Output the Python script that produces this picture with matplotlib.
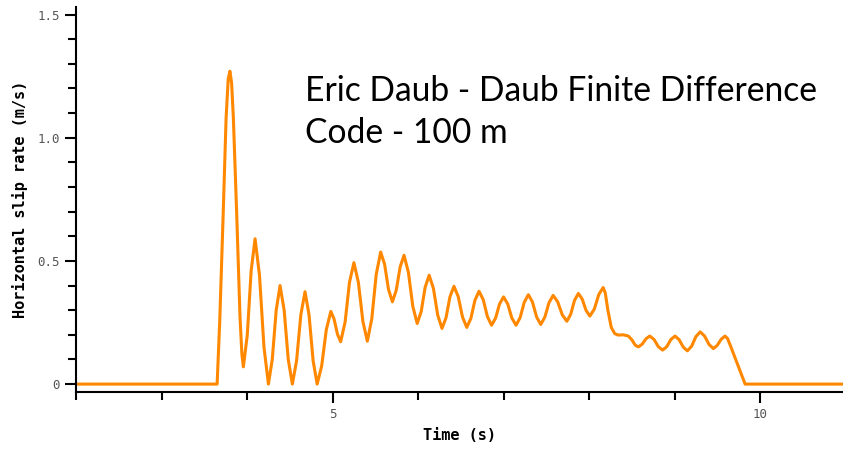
import matplotlib
matplotlib.use("Agg")
import matplotlib.pyplot as plt
from matplotlib.ticker import MultipleLocator

# slip rate history (time in s, rate in m/s)
time_s = [
    2.0, 3.65, 3.68, 3.72, 3.755, 3.78, 3.80,
    3.82, 3.84, 3.88, 3.918, 3.94, 3.957,
    4.003, 4.048, 4.094, 4.146, 4.198, 4.25,
    4.295, 4.341, 4.386, 4.434, 4.482, 4.53,
    4.579, 4.629, 4.678, 4.725, 4.773, 4.82,
    4.873, 4.927, 4.98, 5.018, 5.057, 5.095,
    5.147, 5.198, 5.25, 5.302, 5.355, 5.407,
    5.459, 5.511, 5.563, 5.609, 5.654, 5.70,
    5.745, 5.791, 5.836, 5.887, 5.939, 5.99,
    6.037, 6.083, 6.13, 6.18, 6.23, 6.28,
    6.327, 6.373, 6.42, 6.47, 6.52, 6.57,
    6.618, 6.665, 6.713, 6.762, 6.811, 6.86,
    6.907, 6.953, 7.0, 7.049, 7.097, 7.146,
    7.194, 7.242, 7.29, 7.338, 7.387, 7.435,
    7.483, 7.532, 7.58, 7.633, 7.687, 7.74,
    7.785, 7.83, 7.875, 7.92, 7.965, 8.01,
    8.062, 8.113, 8.165, 8.19, 8.22, 8.26, 8.30, 8.34,
    8.40, 8.46, 8.50, 8.54, 8.577,
    8.621, 8.666, 8.71, 8.76, 8.81, 8.86,
    8.909, 8.957, 9.006, 9.054, 9.102, 9.15,
    9.20, 9.25, 9.30, 9.351, 9.403, 9.454,
    9.499, 9.545, 9.59, 9.62, 9.66, 9.825, 11.0,
]
slip_rate = [
    0.0, 0.0, 0.25, 0.68, 1.08, 1.24, 1.27,
    1.22, 1.08, 0.68, 0.27, 0.12, 0.07,
    0.20, 0.46, 0.59, 0.44, 0.15, 0.0,
    0.10, 0.30, 0.40, 0.30, 0.10, 0.0,
    0.094, 0.281, 0.375, 0.281, 0.094, 0.0,
    0.074, 0.221, 0.295, 0.264, 0.203, 0.172,
    0.252, 0.413, 0.493, 0.413, 0.254, 0.174,
    0.265, 0.446, 0.536, 0.486, 0.385, 0.334,
    0.381, 0.476, 0.523, 0.454, 0.315, 0.246,
    0.295, 0.393, 0.442, 0.388, 0.28, 0.226,
    0.269, 0.354, 0.397, 0.355, 0.272, 0.23,
    0.267, 0.34, 0.377, 0.343, 0.274, 0.239,
    0.268, 0.325, 0.354, 0.325, 0.268, 0.239,
    0.27, 0.332, 0.363, 0.333, 0.272, 0.242,
    0.272, 0.331, 0.36, 0.334, 0.281, 0.255,
    0.283, 0.34, 0.368, 0.345, 0.299, 0.276,
    0.305, 0.363, 0.392, 0.37, 0.30, 0.23, 0.205, 0.199,
    0.20, 0.195, 0.18, 0.158, 0.151,
    0.162, 0.184, 0.195, 0.181, 0.152, 0.138,
    0.152, 0.181, 0.195, 0.18, 0.15, 0.135,
    0.154, 0.193, 0.212, 0.195, 0.161, 0.144,
    0.157, 0.182, 0.195, 0.185, 0.15, 0.0, 0.0,
]

fig = plt.figure(figsize=(8.43, 4.49), dpi=100)
ax = fig.add_axes([0.0902, 0.127, 0.9098, 0.857])

ax.plot(time_s, slip_rate, color="#ff8800", lw=2.2, solid_joinstyle="round")

ax.set_xlim(2.0, 10.97)
ax.set_ylim(-0.032, 1.53)

# only left and bottom axis lines
ax.spines["top"].set_visible(False)
ax.spines["right"].set_visible(False)
for side in ("left", "bottom"):
    ax.spines[side].set_linewidth(1.5)

ax.set_xticks([5, 10], ["5", "10"])
ax.xaxis.set_minor_locator(MultipleLocator(1))
ax.set_yticks([0, 0.5, 1.0, 1.5], ["0", "0.5", "1.0", "1.5"])
ax.yaxis.set_minor_locator(MultipleLocator(0.1))
ax.tick_params(which="major", length=8, width=1.5, direction="out",
               labelsize=9, labelcolor="#555555")
ax.tick_params(which="minor", length=5.5, width=1.5, direction="out")
for lab in ax.get_xticklabels() + ax.get_yticklabels():
    lab.set_family("DejaVu Sans Mono")

ax.set_xlabel("Time (s)", family="DejaVu Sans Mono", fontweight="bold",
              fontsize=11, labelpad=5)
ax.set_ylabel("Horizontal slip rate (m/s)", family="DejaVu Sans Mono",
              fontweight="bold", fontsize=11, labelpad=7)

# title-like note inside the plot
fig.text(305 / 843, 1 - 101 / 449, "Eric Daub - Daub Finite Difference",
         family="Lato", fontsize=24.2, va="baseline")
fig.text(305 / 843, 1 - 143 / 449, "Code - 100 m",
         family="Lato", fontsize=24.2, va="baseline")

fig.savefig("out.png", dpi=100)
